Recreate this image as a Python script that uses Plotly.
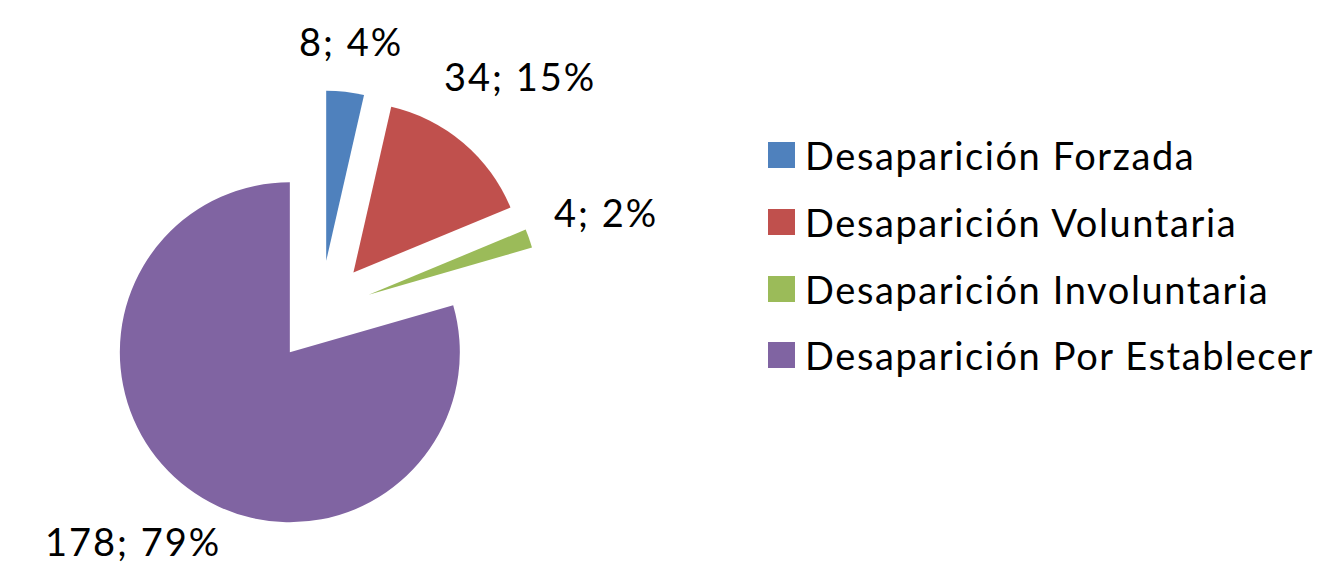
import math
import plotly.graph_objects as go

categories = ["Desaparición Forzada", "Desaparición Voluntaria",
              "Desaparición Involuntaria", "Desaparición Por Establecer"]
values = [8, 34, 4, 178]
colors = ["#4F81BD", "#C0504D", "#9BBB59", "#8064A2"]

W, H = 1330, 563
OFF = 8                    # page body margin
cx, cy = 320.5 - OFF, 311.5 - OFF   # pie centre in figure px (from top-left)
r = 170
pull = 0.3
half = r * (1 + pull)
FS = 38
SP_PIE = '<span style="letter-spacing:2px">{}</span>'
SP_LEG = '<span style="letter-spacing:1.6px">{}</span>'

fig = go.Figure(go.Pie(
    labels=categories, values=values, sort=False, direction="clockwise",
    rotation=0, pull=[pull] * len(values),
    marker=dict(colors=colors, line=dict(width=0)),
    textinfo="none",
    showlegend=False, hoverinfo="label+value+percent",
    domain=dict(x=[(cx - half) / W, (cx + half) / W],
                y=[(H - cy - half) / H, (H - cy + half) / H]),
))

# data labels "value; percent" placed outside each slice, at its mid angle
total = sum(values)
cum = 0
for v in values:
    mid = (cum + v / 2) / total * 2 * math.pi
    cum += v
    sx, sy = math.sin(mid), -math.cos(mid)
    txt = f"{v}; {round(100 * v / total)}%"
    hw = (0.5 * FS + 2) * len(txt) / 2
    hh = 20
    R = 246 + abs(sx) * hw + abs(sy) * hh
    px = cx + R * sx
    py = min(cy + R * sy, H - OFF - hh - 2)
    fig.add_annotation(xref="paper", yref="paper", x=px / W, y=(H - py) / H,
                       text=SP_PIE.format(txt), showarrow=False,
                       xanchor="center", yanchor="middle",
                       font=dict(family="Lato", size=FS, color="black"))

# legend (custom, larger swatches)
leg_y = [155 - OFF, 222 - OFF, 289 - OFF, 355 - OFF]
for name, col, y in zip(categories, colors, leg_y):
    fig.add_shape(type="rect", xref="paper", yref="paper",
                  x0=(768 - OFF) / W, x1=(795 - OFF) / W,
                  y0=(H - y - 13) / H, y1=(H - y + 13) / H,
                  fillcolor=col, line=dict(width=0))
    fig.add_annotation(xref="paper", yref="paper", x=(803 - OFF) / W, y=(H - y) / H,
                       text=SP_LEG.format(name), showarrow=False, xanchor="left",
                       yanchor="middle",
                       font=dict(family="Lato", size=FS, color="black"))

fig.update_layout(width=W, height=H,
                  margin=dict(l=0, r=0, t=0, b=0, autoexpand=False),
                  paper_bgcolor="white", plot_bgcolor="white")
fig.write_html("out.html")
